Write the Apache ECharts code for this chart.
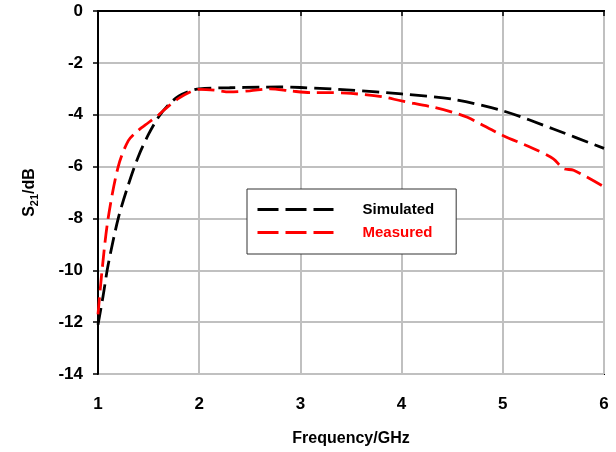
<!DOCTYPE html>
<html>
<head>
<meta charset="utf-8">
<script src="https://cdn.jsdelivr.net/npm/echarts@6/dist/echarts.min.js"></script>
<style>
  html, body { margin: 0; padding: 0; background: #fff; }
  #chart { width: 616px; height: 452px; }
</style>
</head>
<body>
<div id="chart"></div>
<script>
// frequency points (GHz) and S21 values (dB)
var simFreq = [1.0, 1.05, 1.1, 1.2, 1.3, 1.4, 1.5, 1.6, 1.7, 1.8, 1.9, 2.0, 2.3, 2.6, 2.8, 3.0, 3.5, 4.0, 4.5, 5.0, 5.5, 6.0];
var simVals = [-12.1, -11.0, -9.8, -8.0, -6.7, -5.6, -4.75, -4.08, -3.6, -3.28, -3.1, -3.0, -2.96, -2.94, -2.93, -2.95, -3.05, -3.2, -3.4, -3.85, -4.55, -5.3];
var measFreq = [1.0, 1.04, 1.1, 1.2, 1.3, 1.4, 1.5, 1.6, 1.7, 1.8, 1.9, 2.0, 2.15, 2.3, 2.5, 2.7, 2.9, 3.1, 3.3, 3.5, 3.8, 4.0, 4.3, 4.5, 4.65, 5.0, 5.3, 5.5, 5.6, 5.7, 6.0];
var measVals = [-11.7, -10.0, -8.0, -6.0, -5.0, -4.6, -4.3, -4.0, -3.66, -3.36, -3.14, -3.02, -3.05, -3.12, -3.08, -3.0, -3.08, -3.15, -3.15, -3.18, -3.3, -3.47, -3.7, -3.9, -4.1, -4.8, -5.3, -5.7, -6.08, -6.14, -6.78];
var seriesNames = ['Simulated', 'Measured'];

function pairs(xs, ys) {
  return xs.map(function (x, i) { return [x, ys[i]]; });
}

var chart = echarts.init(document.getElementById('chart'));
var font = 'Liberation Sans, Arial, sans-serif';

chart.setOption({
  animation: false,
  grid: { left: 98, right: 12, top: 11, bottom: 75, show: true, borderColor: '#000', borderWidth: 2 },
  legend: {
    left: 247, top: 189, width: 180, orient: 'vertical',
    itemWidth: 76, itemHeight: 14, itemGap: 8,
    padding: [13, 22, 14, 9],
    borderColor: '#333', borderWidth: 1, backgroundColor: '#fff',
    itemStyle: { opacity: 0 },
    lineStyle: { width: 3, type: [21, 7] },
    data: [
      { name: seriesNames[0], textStyle: { color: '#000' } },
      { name: seriesNames[1], textStyle: { color: '#ff0000' } }
    ],
    textStyle: { fontFamily: font, fontWeight: 'bold', fontSize: 15, padding: [0, 0, 0, 24] }
  },
  xAxis: {
    type: 'value', min: 1, max: 6, interval: 1,
    name: 'Frequency/GHz', nameLocation: 'middle', nameGap: 57,
    nameTextStyle: { fontFamily: font, fontWeight: 'bold', fontSize: 16, color: '#000' },
    axisLine: { show: true, lineStyle: { color: '#000', width: 2 } },
    axisTick: { show: true, inside: false, length: 5, lineStyle: { color: '#000', width: 1.5 } },
    axisLabel: { fontFamily: font, fontWeight: 'bold', fontSize: 17, color: '#000', margin: 22 },
    splitLine: { show: true, lineStyle: { color: '#c0c0c0', width: 2 } }
  },
  yAxis: {
    type: 'value', min: -14, max: 0, interval: 2,
    name: '{a|S}{b|21}{a|/dB}', nameLocation: 'middle', nameGap: 58, nameRotate: 90,
    nameTextStyle: {
      rich: {
        a: { fontFamily: font, fontWeight: 'bold', fontSize: 16, color: '#000' },
        b: { fontFamily: font, fontWeight: 'bold', fontSize: 11, color: '#000', verticalAlign: 'bottom', padding: [10, 0, 0, 0] }
      }
    },
    axisLine: { show: true, lineStyle: { color: '#000', width: 2 } },
    axisTick: { show: true, inside: false, length: 5, lineStyle: { color: '#000', width: 1.5 } },
    axisLabel: { fontFamily: font, fontWeight: 'bold', fontSize: 17, color: '#000', margin: 15 },
    splitLine: { show: true, lineStyle: { color: '#c0c0c0', width: 2 } }
  },
  series: [
    {
      name: seriesNames[0], type: 'line', smooth: 0.3, symbol: 'none',
      data: pairs(simFreq, simVals),
      lineStyle: { color: '#000', width: 2.8, type: [17, 7] },
      itemStyle: { color: '#000' }
    },
    {
      name: seriesNames[1], type: 'line', smooth: 0.3, symbol: 'none',
      data: pairs(measFreq, measVals),
      lineStyle: { color: '#ff0000', width: 2.8, type: [17, 7] },
      itemStyle: { color: '#ff0000' }
    }
  ]
});
</script>
</body>
</html>
